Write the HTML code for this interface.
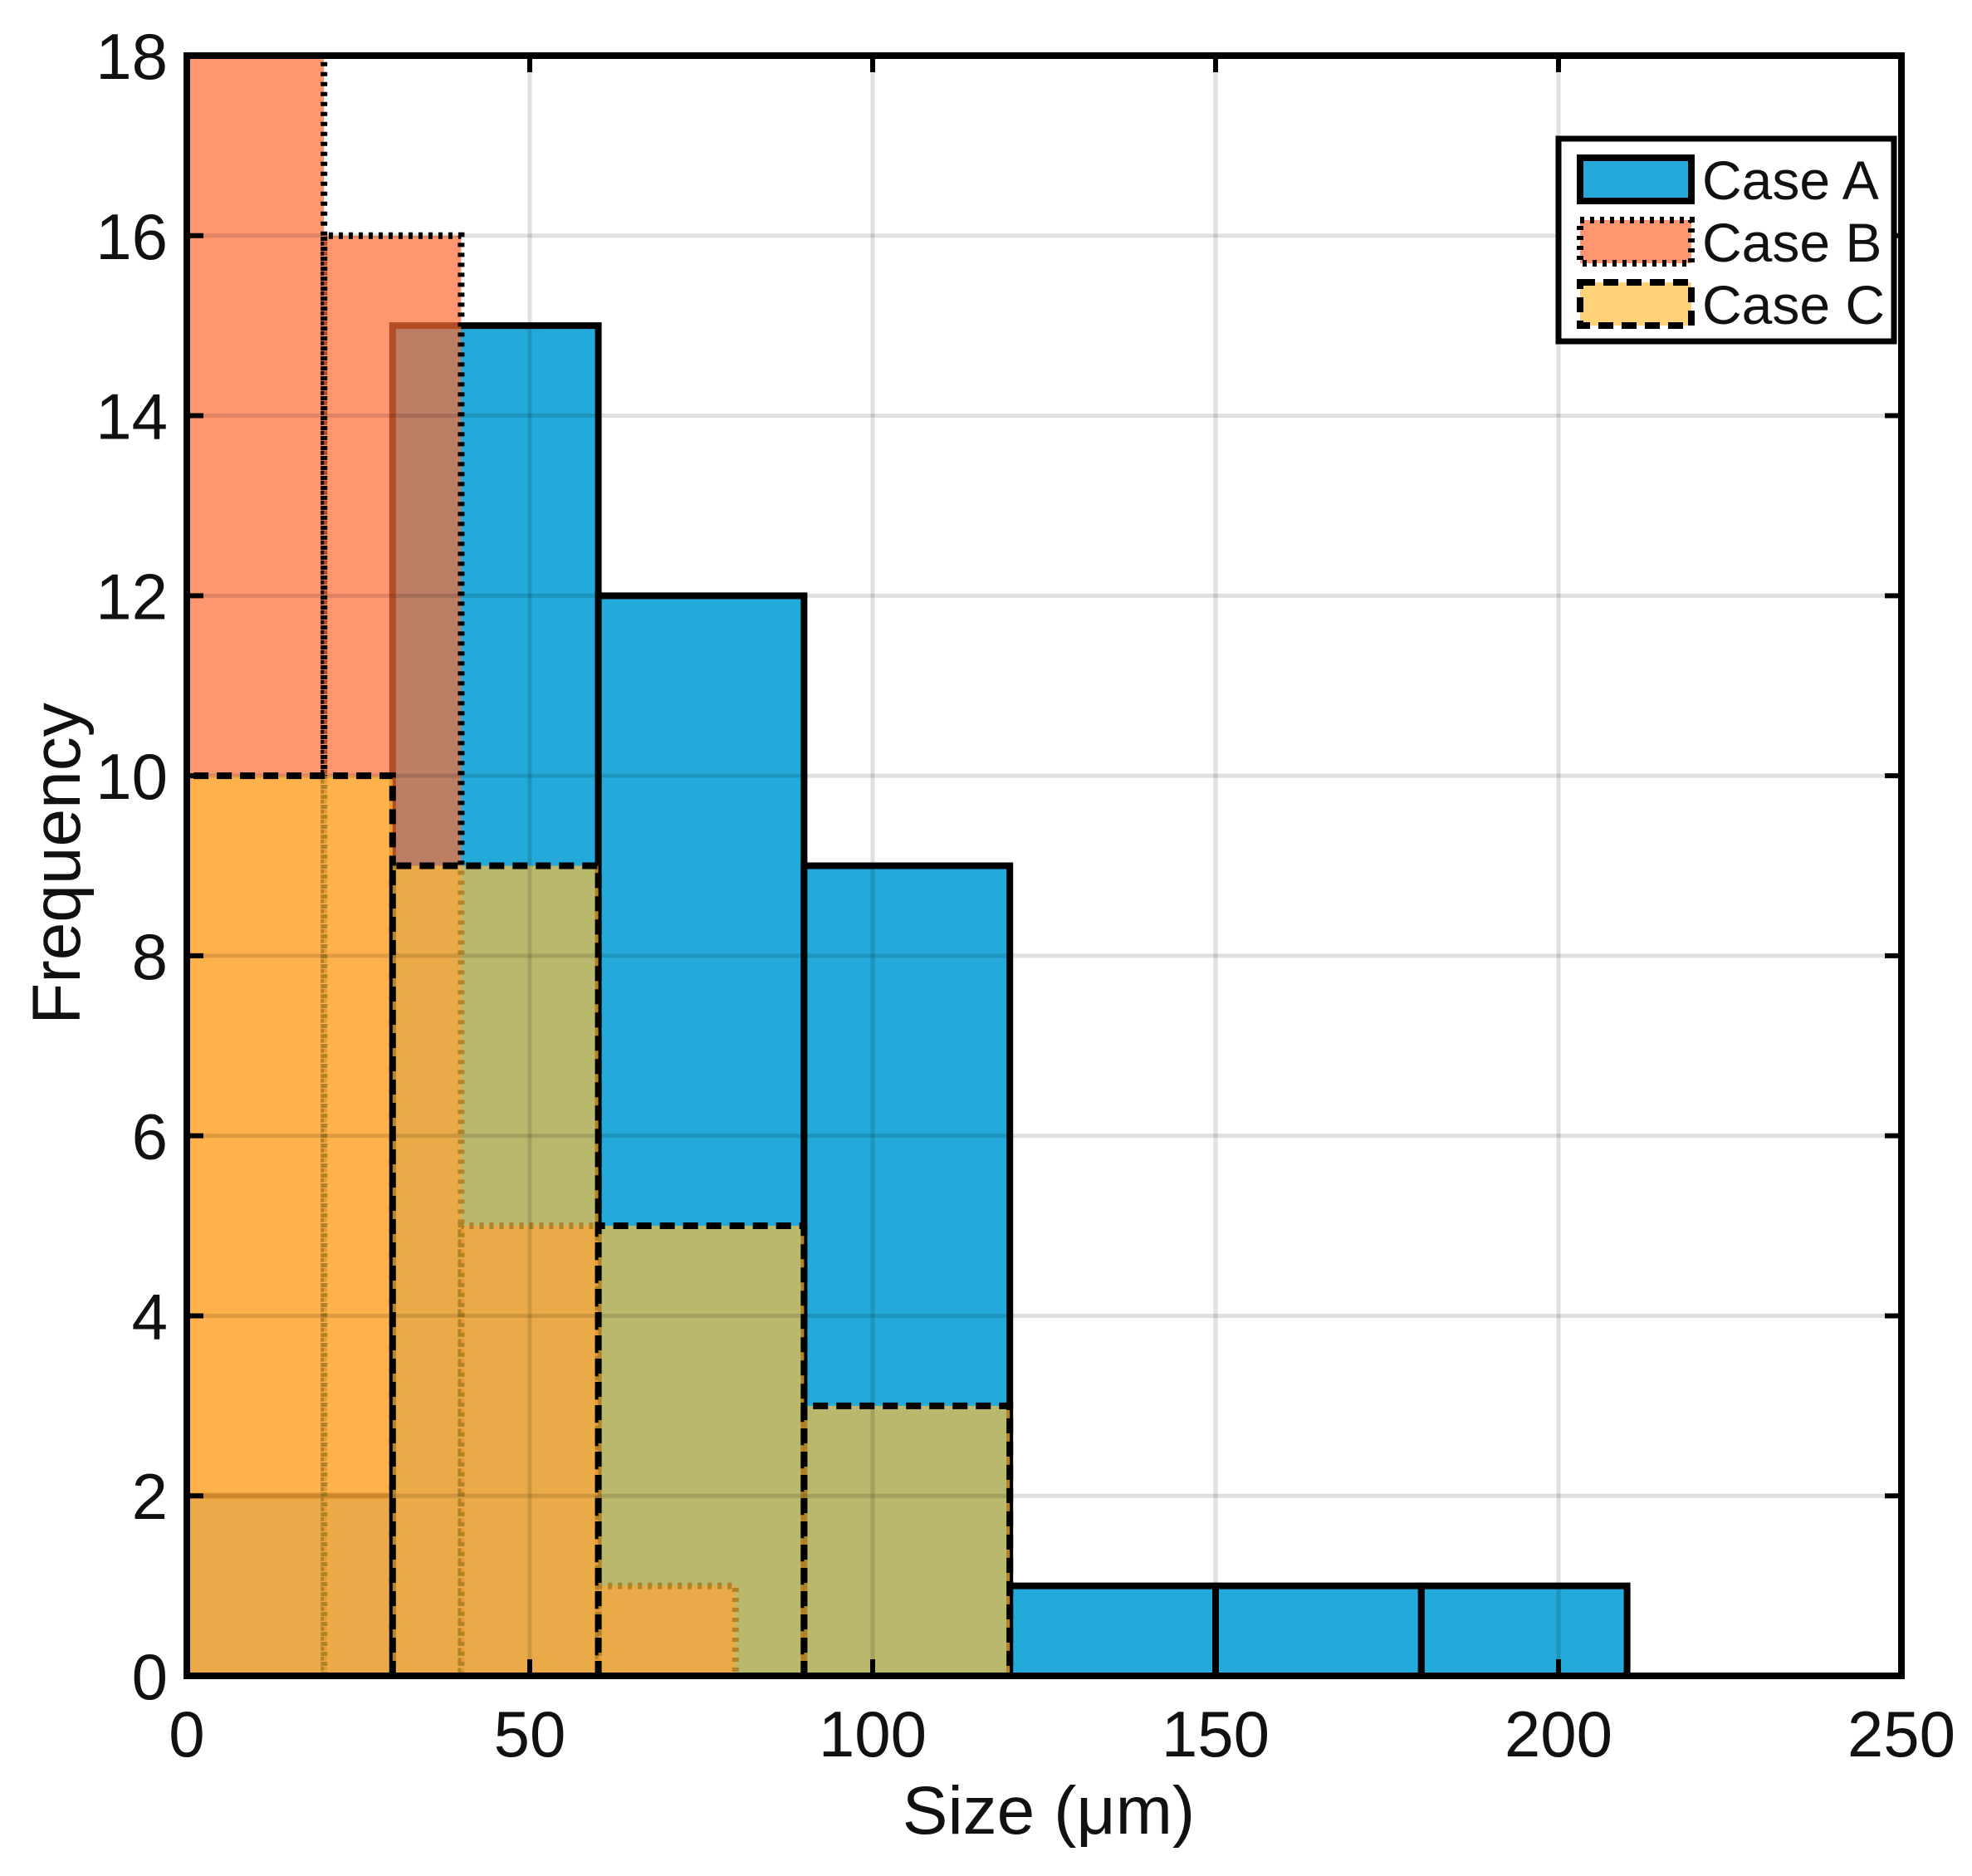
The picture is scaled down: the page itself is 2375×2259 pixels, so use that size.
<!DOCTYPE html>
<html><head><meta charset="utf-8"><style>
html,body{margin:0;padding:0;background:#fff;}
svg{display:block;font-family:"Liberation Sans",Arial,sans-serif;}
</style></head><body>
<svg id="chart" width="2375" height="2259" viewBox="0 0 2375 2259" xmlns="http://www.w3.org/2000/svg">
<rect width="2375" height="2259" fill="#fff"/>
<g id="bars"></g>
<g id="grid"></g>
<g id="axes"></g>
<g id="legend"></g>
</svg>
<script>
const binWidthA = 30, binWidthB = 20, binWidthC = 30;
const binStartsA = [0, 30, 60, 90, 120, 150, 180];
const countsA = [2, 15, 12, 9, 1, 1, 1];
const binStartsB = [0, 20, 40, 60];
const countsB = [18, 16, 5, 1];
const binStartsC = [0, 30, 60, 90];
const countsC = [10, 9, 5, 3];
const xTicks = [0, 50, 100, 150, 200, 250];
const yTicks = [0, 2, 4, 6, 8, 10, 12, 14, 16, 18];
const seriesNames = ["Case A", "Case B", "Case C"];

const L = 225, R = 2290, T = 67, B = 2018;
const xMax = 250, yMax = 18;
const sx = v => L + (v / xMax) * (R - L);
const sy = v => B - (v / yMax) * (B - T);
const NS = "http://www.w3.org/2000/svg";
function mk(tag, attrs, parent) {
  const e = document.createElementNS(NS, tag);
  for (const k in attrs) e.setAttribute(k, attrs[k]);
  parent.appendChild(e);
  return e;
}
const styles = [
  {fill: "#23aada", op: 1, dash: null},
  {fill: "rgb(253,107,53)", op: 0.71, dash: "5 7"},
  {fill: "rgb(255,190,60)", op: 0.69, dash: "18 10"}
];
const barsG = document.getElementById('bars');
function drawSeries(starts, counts, w, st, key) {
  const g = mk('g', {}, barsG);
  
  
  starts.forEach((s, i) => {
    const x0 = sx(s), x1 = sx(s + w), y = sy(counts[i]);
    const r = mk('rect', {x: x0, y: y, width: x1 - x0, height: B - y, fill: st.fill, 'fill-opacity': st.op}, g);
    
    
    const p = mk('path', {d: `M${x0},${B} L${x0},${y} L${x1},${y} L${x1},${B}`, fill: 'none', stroke: '#000', 'stroke-width': 8}, g);
    if (st.dash) p.setAttribute('stroke-dasharray', st.dash);
  });
}
drawSeries(binStartsA, countsA, binWidthA, styles[0], 'case-a');
drawSeries(binStartsB, countsB, binWidthB, styles[1], 'case-b');
drawSeries(binStartsC, countsC, binWidthC, styles[2], 'case-c');

const grid = document.getElementById('grid');
xTicks.forEach(t => { if (t > 0 && t < xMax) mk('line', {x1: sx(t), x2: sx(t), y1: T, y2: B, stroke: 'rgba(0,0,0,0.12)', 'stroke-width': 5}, grid); });
yTicks.forEach(t => { if (t > 0 && t < yMax) mk('line', {x1: L, x2: R, y1: sy(t), y2: sy(t), stroke: 'rgba(0,0,0,0.12)', 'stroke-width': 5}, grid); });

const ax = document.getElementById('axes');
const frame = mk('rect', {x: L, y: T, width: R - L, height: B - T, fill: 'none', stroke: '#000', 'stroke-width': 8}, ax);


xTicks.forEach(t => {
  mk('line', {x1: sx(t), x2: sx(t), y1: B, y2: B - 20, stroke: '#000', 'stroke-width': 6}, ax);
  mk('line', {x1: sx(t), x2: sx(t), y1: T, y2: T + 20, stroke: '#000', 'stroke-width': 6}, ax);
  const tx = mk('text', {x: sx(t), y: B + 97, 'text-anchor': 'middle', 'font-size': 78, fill: '#111'}, ax);
  tx.textContent = t;
  
  
});
yTicks.forEach(t => {
  mk('line', {x1: L, x2: L + 20, y1: sy(t), y2: sy(t), stroke: '#000', 'stroke-width': 6}, ax);
  mk('line', {x1: R, x2: R - 20, y1: sy(t), y2: sy(t), stroke: '#000', 'stroke-width': 6}, ax);
  const tx = mk('text', {x: 202, y: sy(t) + 28, 'text-anchor': 'end', 'font-size': 78, fill: '#111'}, ax);
  tx.textContent = t;
  
  
});
const xl = mk('text', {x: 1263, y: 2208, 'text-anchor': 'middle', 'font-size': 82, fill: '#111'}, ax);
xl.textContent = 'Size (μm)';


const yl = mk('text', {x: 0, y: 0, 'text-anchor': 'middle', 'font-size': 82, fill: '#111', transform: 'translate(96,1040) rotate(-90)'}, ax);
yl.textContent = 'Frequency';



const lg = document.getElementById('legend');


mk('rect', {x: 1877, y: 167, width: 404, height: 244, fill: '#fff', stroke: '#000', 'stroke-width': 7}, lg);
const rowsY = [216, 291, 366];
seriesNames.forEach((n, i) => {
  const st = styles[i];
  const e = mk('g', {}, lg);
  
  
  const r = mk('rect', {x: 1903, y: rowsY[i] - 26, width: 134, height: 52, fill: st.fill, 'fill-opacity': st.op, stroke: '#000', 'stroke-width': 8}, e);
  if (st.dash) r.setAttribute('stroke-dasharray', st.dash);
  const t = mk('text', {x: 2050, y: rowsY[i] + 24, 'font-size': 66, fill: '#111'}, e);
  t.textContent = n;
});
</script>
</body></html>
